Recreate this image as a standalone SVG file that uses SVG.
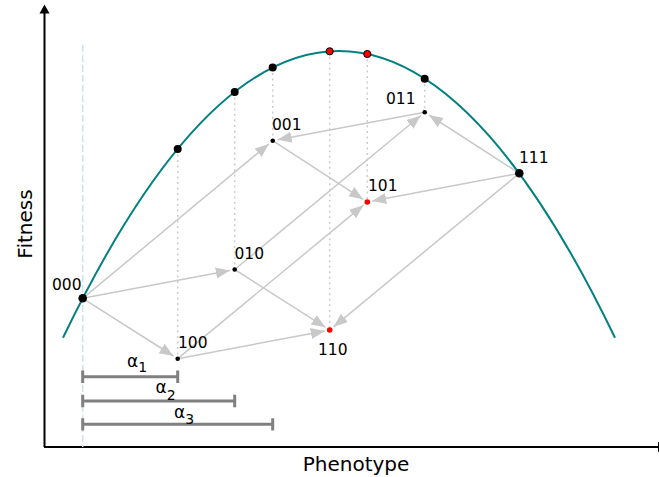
<svg xmlns="http://www.w3.org/2000/svg" width="659" height="477" viewBox="0 0 659 477">
<style>
.lbl{font-family:"DejaVu Sans",sans-serif;font-size:15.5px;fill:#000}
.ax{font-family:"DejaVu Sans",sans-serif;font-size:20px;fill:#000}
.al{font-family:"DejaVu Sans",sans-serif;font-size:17px;fill:#000}
.sub{font-size:14px}
.arr{stroke:#c8c8c8;stroke-width:1.5;fill:none;marker-end:url(#ah)}
.dot{stroke:#cccccc;stroke-width:1.5;stroke-dasharray:2 3.5;fill:none}
.br{stroke:#808080;stroke-width:3;fill:none}
</style>
<defs>
<marker id="ah" markerUnits="userSpaceOnUse" markerWidth="16" markerHeight="12" refX="14" refY="5.5" orient="auto">
<path d="M0,0 L14,5.5 L0,11 z" fill="#c8c8c8"/>
</marker>
</defs>
<g id="axes">
<line x1="44.5" y1="447" x2="44.5" y2="12" stroke="#000" stroke-width="2"/>
<path d="M39.5,13.5 L44.5,4.5 L49.5,13.5 z" fill="#000"/>
<line x1="44" y1="447" x2="659" y2="447" stroke="#000" stroke-width="2"/>
<path d="M658,442 L667,447 L658,452 z" fill="#000"/>
<text class="ax" x="356" y="471" text-anchor="middle">Phenotype</text>
<text class="ax" transform="translate(32,224) rotate(-90)" text-anchor="middle">Fitness</text>
</g>
<g id="guides">
<line x1="82.7" y1="45" x2="82.7" y2="447" stroke="#cfe0ee" stroke-width="1.5" stroke-dasharray="7 3"/>
<line class="dot" x1="177.7" y1="149" x2="177.7" y2="358.7"/>
<line class="dot" x1="234.7" y1="92" x2="234.7" y2="269.5"/>
<line class="dot" x1="272.7" y1="67.6" x2="272.7" y2="140.7"/>
<line class="dot" x1="329.7" y1="51.3" x2="329.7" y2="330"/>
<line class="dot" x1="367.3" y1="54" x2="367.3" y2="202"/>
<line class="dot" x1="424.7" y1="78.7" x2="424.7" y2="112.3"/>
</g>
<g id="curve">
<path d="M63,337.8 Q339,-235.8 615,337.8" stroke="#008080" stroke-width="2" fill="none"/>
</g>
<g id="connectors">
<line class="arr" x1="82.7" y1="298.3" x2="173.5" y2="356"/>
<line class="arr" x1="82.7" y1="298.3" x2="229.8" y2="270.4"/>
<line class="arr" x1="82.7" y1="298.3" x2="268.9" y2="143.9"/>
<line class="arr" x1="177.7" y1="358.7" x2="324.8" y2="330.9"/>
<line class="arr" x1="177.7" y1="358.7" x2="363.4" y2="205.2"/>
<line class="arr" x1="234.7" y1="269.5" x2="325.5" y2="327.3"/>
<line class="arr" x1="234.7" y1="269.5" x2="420.8" y2="115.5"/>
<line class="arr" x1="272.7" y1="140.7" x2="363.1" y2="199.3"/>
<line class="arr" x1="424.7" y1="112.3" x2="277.6" y2="139.8"/>
<line class="arr" x1="519.3" y1="173.3" x2="428.9" y2="115"/>
<line class="arr" x1="519.3" y1="173.3" x2="372.2" y2="201.1"/>
<line class="arr" x1="519.3" y1="173.3" x2="333.6" y2="326.8"/>
</g>
<g id="fitness-points">
<circle cx="177.7" cy="149" r="4" fill="#000"/>
<circle cx="234.7" cy="92" r="4" fill="#000"/>
<circle cx="272.7" cy="67.6" r="4" fill="#000"/>
<circle cx="329.7" cy="51.3" r="3.6" fill="#ff0000" stroke="#000" stroke-width="1"/>
<circle cx="367.3" cy="54" r="3.6" fill="#ff0000" stroke="#000" stroke-width="1"/>
<circle cx="424.7" cy="78.7" r="4" fill="#000"/>
</g>
<g id="n000"><circle cx="82.7" cy="298.3" r="4.3" fill="#000"/><text class="lbl" x="52" y="290">000</text></g>
<g id="n100"><circle cx="177.7" cy="358.7" r="2.3" fill="#000"/><text class="lbl" x="178" y="348.3">100</text></g>
<g id="n010"><circle cx="234.7" cy="269.5" r="2.3" fill="#000"/><text class="lbl" x="234.5" y="259">010</text></g>
<g id="n001"><circle cx="272.7" cy="140.7" r="2.3" fill="#000"/><text class="lbl" x="272" y="130">001</text></g>
<g id="n110"><circle cx="329.7" cy="330" r="2.8" fill="#ff0000"/><text class="lbl" x="318" y="355">110</text></g>
<g id="n101"><circle cx="367.3" cy="202" r="2.8" fill="#ff0000"/><text class="lbl" x="368" y="191">101</text></g>
<g id="n011"><circle cx="424.7" cy="112.3" r="2.3" fill="#000"/><text class="lbl" x="386" y="104">011</text></g>
<g id="n111"><circle cx="519.3" cy="173.3" r="4.3" fill="#000"/><text class="lbl" x="519" y="162.7">111</text></g>
<g id="alphas">
<path class="br" d="M82.7,370.5 V383 M82.7,376.7 H177.7 M177.7,370.5 V383"/>
<path class="br" d="M82.7,394.8 V407.2 M82.7,401 H234.7 M234.7,394.8 V407.2"/>
<path class="br" d="M82.7,418.2 V430.5 M82.7,424.3 H272.7 M272.7,418.2 V430.5"/>
<text class="al" x="127" y="366.5">α<tspan class="sub" dy="5.5">1</tspan></text>
<text class="al" x="155.5" y="393">α<tspan class="sub" dy="6.5">2</tspan></text>
<text class="al" x="174" y="418">α<tspan class="sub" dy="5.5">3</tspan></text>
</g>
</svg>
